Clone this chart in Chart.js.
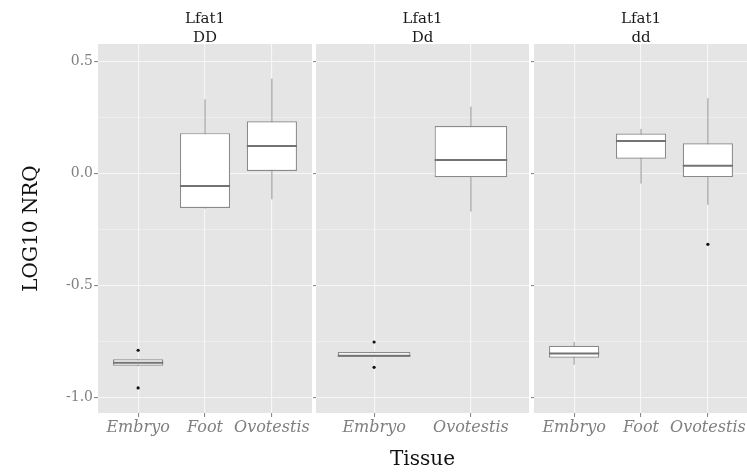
<!DOCTYPE html>
<html>
<head>
<meta charset="utf-8">
<script src="https://cdn.jsdelivr.net/npm/chart.js@4/dist/chart.umd.min.js"></script>
<style>
  html, body { margin: 0; padding: 0; background: #fff; overflow: hidden; }
  #wrap { position: relative; width: 747px; height: 475px; overflow: hidden; }
  canvas { position: absolute; top: 0; }
</style>
</head>
<body>
<div id="wrap">
  <canvas id="panelDD" width="312" height="475" style="left:0px"></canvas>
  <canvas id="panelDd" width="216" height="475" style="left:313px"></canvas>
  <canvas id="paneldd" width="217" height="475" style="left:531px"></canvas>
</div>
<script>
// data
const gene = "Lfat1";
const genotypes = ["DD", "Dd", "dd"];

const tissuesDD = ["Embryo", "Foot", "Ovotestis"];
const tissuesDd = ["Embryo", "Ovotestis"];
const tissuesdd = ["Embryo", "Foot", "Ovotestis"];

// each row: [lower whisker, Q1, median, Q3, upper whisker]
const statsDD = [
  [-0.861, -0.859, -0.846, -0.830, -0.829],
  [-0.158, -0.155, -0.057, 0.179, 0.330],
  [-0.116, 0.010, 0.122, 0.232, 0.422]
];
const statsDd = [
  [-0.820, -0.819, -0.815, -0.798, -0.797],
  [-0.171, -0.018, 0.059, 0.211, 0.297]
];
const statsdd = [
  [-0.854, -0.823, -0.804, -0.770, -0.753],
  [-0.046, 0.065, 0.144, 0.177, 0.198],
  [-0.141, -0.017, 0.034, 0.134, 0.335]
];

// outliers: [tissue index, value]
const outliersDD = [[0, -0.790], [0, -0.958]];
const outliersDd = [[0, -0.753], [0, -0.866]];
const outliersdd = [[2, -0.317]];

const yTicks = [-1, -0.75, -0.5, -0.25, 0, 0.25, 0.5];
const yTickLabels = ["-1.0", "", "-0.5", "", "0.0", "", "0.5"];
const yMin = -1.07;
const yMax = 0.577;

const serif = "'DejaVu Serif', 'Liberation Serif', serif";
const greyText = "#7f7f7f";

const panelBg = {
  id: "panelBg",
  beforeDraw(chart) {
    const a = chart.chartArea;
    const ctx = chart.ctx;
    ctx.save();
    ctx.fillStyle = "#e5e5e5";
    ctx.fillRect(a.left, a.top, a.right - a.left, a.bottom - a.top);
    ctx.restore();
  }
};

const stripLabel = {
  id: "stripLabel",
  afterDraw(chart, args, opts) {
    const a = chart.chartArea;
    const ctx = chart.ctx;
    const cx = (a.left + a.right) / 2;
    ctx.save();
    ctx.fillStyle = "#1a1a1a";
    ctx.font = "15px " + serif;
    ctx.textAlign = "center";
    ctx.textBaseline = "alphabetic";
    ctx.fillText(opts.lines[0], cx, a.top - 21);
    ctx.fillText(opts.lines[1], cx, a.top - 2.5);
    ctx.restore();
  }
};

// keep the panels at their exact size, labels may hang over the edge
function noPadding(scale) {
  scale.paddingLeft = 0;
  scale.paddingRight = 0;
  scale.paddingTop = 0;
  scale.paddingBottom = 0;
}

function makePanel(id, genotype, tissues, stats, outliers, first, middle) {
  const whiskers = [];
  const medians = [];
  stats.forEach((s, i) => {
    whiskers.push({ x: i, y: s[0] }, { x: i, y: s[4] }, { x: i, y: null });
    medians.push({ x: i - 0.375, y: s[2] }, { x: i + 0.375, y: s[2] }, { x: i, y: null });
  });

  new Chart(document.getElementById(id), {
    type: "bar",
    data: {
      datasets: [
        {
          type: "line",
          data: whiskers,
          borderColor: "#939393",
          borderWidth: 1,
          pointRadius: 0,
          spanGaps: false,
          order: 3
        },
        {
          type: "bar",
          data: stats.map((s, i) => ({ x: i, y: [s[1], s[3]] })),
          backgroundColor: "#ffffff",
          borderColor: "#8a8a8a",
          borderWidth: 1.2,
          borderSkipped: false,
          categoryPercentage: 1,
          barPercentage: 0.75,
          order: 2
        },
        {
          type: "line",
          data: medians,
          borderColor: "#737373",
          borderWidth: 2,
          pointRadius: 0,
          spanGaps: false,
          order: 1
        },
        {
          type: "scatter",
          data: outliers.map(o => ({ x: o[0], y: o[1] })),
          backgroundColor: "#111111",
          borderWidth: 0,
          pointRadius: 1.6,
          order: 0
        }
      ]
    },
    options: {
      responsive: false,
      animation: false,
      events: [],
      layout: { autoPadding: false, padding: { top: 44, left: 0, right: 0, bottom: 0 } },
      plugins: {
        legend: { display: false },
        tooltip: { enabled: false },
        stripLabel: { lines: [gene, genotype] }
      },
      scales: {
        x: {
          type: "linear",
          min: -0.6,
          max: tissues.length - 1 + 0.6,
          offset: false,
          afterBuildTicks: scale => {
            scale.ticks = tissues.map((_, i) => ({ value: i }));
          },
          afterFit: scale => {
            scale.height = 62;
            noPadding(scale);
          },
          ticks: {
            autoSkip: false,
            maxRotation: 0,
            padding: 1,
            color: greyText,
            font: { family: serif, size: 16, style: "italic" },
            callback: (v, i) => tissues[i]
          },
          grid: {
            offset: false,
            color: "#f7f7f7",
            lineWidth: 1.1,
            tickColor: "#8a8a8a",
            tickLength: 4
          },
          border: { display: false },
          title: {
            display: middle,
            text: "Tissue",
            color: "#111111",
            font: { family: serif, size: 20 },
            padding: { top: 0, bottom: 3 }
          }
        },
        y: {
          type: "linear",
          min: yMin,
          max: yMax,
          afterBuildTicks: scale => {
            scale.ticks = yTicks.map(v => ({ value: v }));
          },
          afterFit: scale => {
            scale.width = first ? 98 : 3;
            noPadding(scale);
          },
          ticks: {
            display: first,
            padding: 1,
            color: greyText,
            font: { family: serif, size: 14 },
            callback: (v, i) => yTickLabels[i]
          },
          grid: {
            offset: false,
            color: "#f7f7f7",
            lineWidth: c => (yTickLabels[c.index] ? 1.1 : 0.5),
            tickColor: c => (yTickLabels[c.index] ? "#8a8a8a" : "rgba(0,0,0,0)"),
            tickLength: first ? 4 : 3
          },
          border: { display: false },
          title: {
            display: first,
            text: "LOG10 NRQ",
            color: "#111111",
            font: { family: serif, size: 20 },
            padding: { top: 20, bottom: 0 }
          }
        }
      }
    },
    plugins: [panelBg, stripLabel]
  });
}

makePanel("panelDD", genotypes[0], tissuesDD, statsDD, outliersDD, true, false);
makePanel("panelDd", genotypes[1], tissuesDd, statsDd, outliersDd, false, true);
makePanel("paneldd", genotypes[2], tissuesdd, statsdd, outliersdd, false, false);
</script>
</body>
</html>
